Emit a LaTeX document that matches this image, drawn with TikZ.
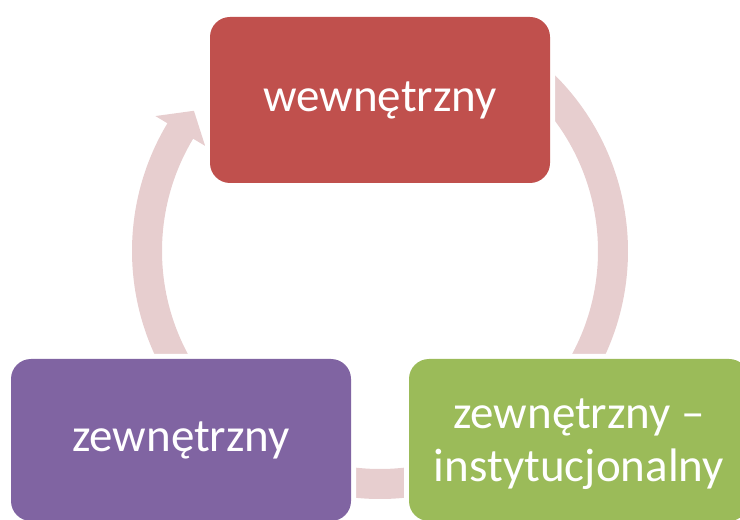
\documentclass[tikz,border=0pt]{standalone}
\usepackage{fontspec}
\setmainfont{Carlito}
\usetikzlibrary{calc}
\definecolor{boxred}{HTML}{C0504D}
\definecolor{boxpurple}{HTML}{8064A2}
\definecolor{boxgreen}{HTML}{9BBB59}
\definecolor{arcpink}{RGB}{231,206,207}
\begin{document}
\begin{tikzpicture}[x=1pt,y=1pt,
  cyclebox/.style={rounded corners=20pt, minimum width=340pt, minimum height=162pt,
    inner sep=0pt, text=white, align=center, font=\fontsize{47}{53}\selectfont,
    preaction={draw=white, line width=10pt}},
  arcband/.style={fill=arcpink}]
\useasboundingbox (0,0) rectangle (740,520);
\clip (0,0) rectangle (740,520);
\coordinate (C) at (380,269);
% arcs (behind boxes)
\fill[arcband] ($(C)+(212:248)$) arc[start angle=212, end angle=149, radius=248]
  -- ($(C)+(149:262)$) -- ($(C)+(143:233)$) -- ($(C)+(149:204)$)
  -- ($(C)+(149:218)$) arc[start angle=149, end angle=212, radius=218] -- cycle;
\fill[arcband] ($(C)+(50:248)$) arc[start angle=50, end angle=-35, radius=248]
  -- ($(C)+(-35:218)$) arc[start angle=-35, end angle=50, radius=218] -- cycle;
\fill[arcband] ($(C)+(-70:248)$) arc[start angle=-70, end angle=-110, radius=248]
  -- ($(C)+(-110:218)$) arc[start angle=-110, end angle=-70, radius=218] -- cycle;
% boxes
\node[cyclebox, fill=boxred, minimum height=166pt] (top) at (380,420) {wewnętrzny};
\node[cyclebox, fill=boxpurple] (left) at (181,80) {zewnętrzny};
\node[cyclebox, fill=boxgreen,
  label={[text=white, align=center, font=\fontsize{47}{53}\selectfont, yshift=-4pt]center:zewnętrzny –\\instytucjonalny}] (right) at (579,80) {};
\end{tikzpicture}
\end{document}
